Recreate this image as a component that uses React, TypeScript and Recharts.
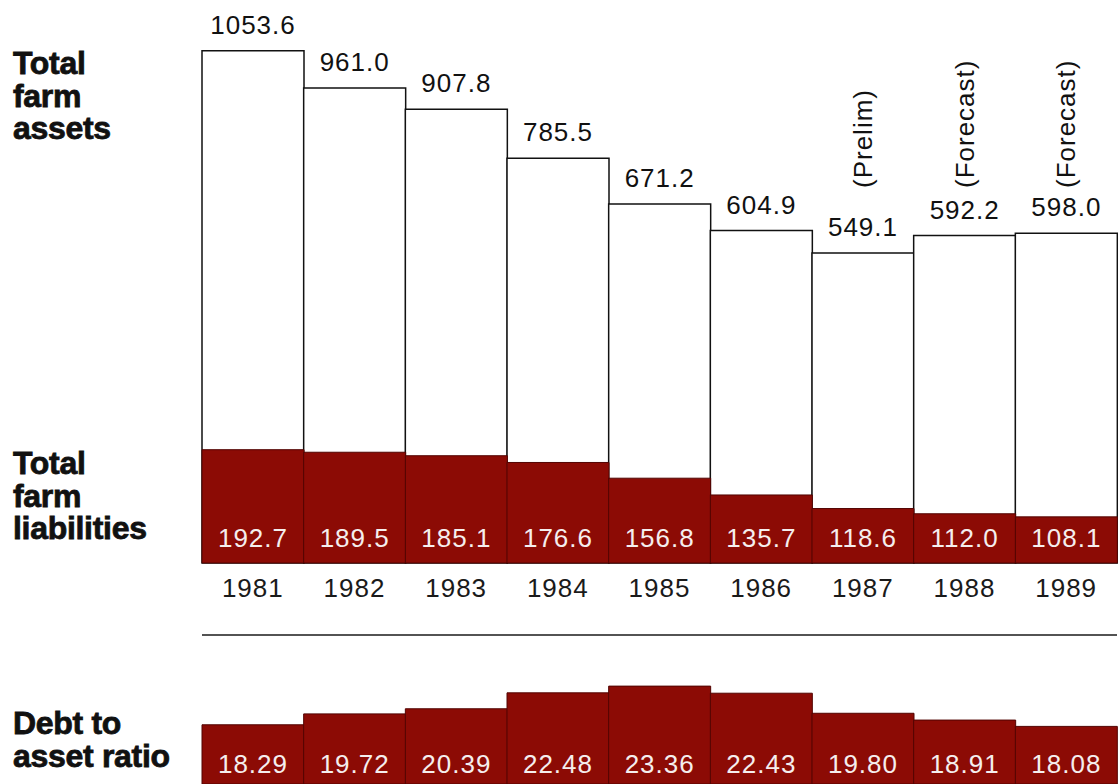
import React from 'react';
import { ComposedChart, BarChart, Bar, XAxis, YAxis, LabelList } from 'recharts';

const YEARS = ['1981', '1982', '1983', '1984', '1985', '1986', '1987', '1988', '1989'];
const ASSETS = [1053.6, 961.0, 907.8, 785.5, 671.2, 604.9, 549.1, 592.2, 598.0];
const LIABILITIES = [192.7, 189.5, 185.1, 176.6, 156.8, 135.7, 118.6, 112.0, 108.1];
const DEBT_RATIO = [18.29, 19.72, 20.39, 22.48, 23.36, 22.43, 19.8, 18.91, 18.08];
const NOTES = ['', '', '', '', '', '', '(Prelim)', '(Forecast)', '(Forecast)'];

const data = YEARS.map((year, i) => ({
  year,
  assets: ASSETS[i],
  liabilities: LIABILITIES[i],
  ratio: DEBT_RATIO[i],
  note: NOTES[i],
}));

// the printed chart is not drawn from zero, so the hidden axes start below it
const ASSET_DOMAIN: [number, number] = [-225, 1093];
const LIAB_DOMAIN: [number, number] = [50, 715];
const RATIO_DOMAIN: [number, number] = [10.53, 30.06];

const RED = '#8c0b05';
const RED_EDGE = '#520402';
const FONT = '"Liberation Sans", Arial, Helvetica, sans-serif';
const NOTE_Y = 188;

const sideLabel: React.CSSProperties = {
  position: 'absolute',
  left: 13,
  fontFamily: FONT,
  fontWeight: 700,
  fontSize: 32,
  lineHeight: '32.5px',
  color: '#111',
  WebkitTextStroke: '0.8px #111',
  letterSpacing: -0.3,
};

function NoteLabel(props: any) {
  const { x, width, value } = props;
  if (!value) return null;
  const cx = Number(x) + Number(width) / 2;
  return (
    <text
      x={cx}
      y={NOTE_Y}
      transform={`rotate(-90 ${cx} ${NOTE_Y})`}
      textAnchor="start"
      dominantBaseline="central"
      fontSize={26}
      fontFamily={FONT}
      letterSpacing={1}
      fill="#111"
    >
      {value}
    </text>
  );
}

function YearTick(props: any) {
  const { x, y, payload } = props;
  return (
    <text x={x} y={Number(y) + 34} textAnchor="middle" fontSize={26} fontFamily={FONT} letterSpacing={1} fill="#1a1a1a">
      {payload.value}
    </text>
  );
}

export default function App() {
  return (
    <div
      style={{
        position: 'absolute',
        left: 0,
        top: 0,
        width: 1118,
        height: 784,
        background: '#fff',
        overflow: 'hidden',
      }}
    >
      <div style={{ ...sideLabel, top: 47 }}>
        Total
        <br />
        farm
        <br />
        assets
      </div>
      <div style={{ ...sideLabel, top: 447 }}>
        Total
        <br />
        farm
        <br />
        liabilities
      </div>
      <div style={{ ...sideLabel, top: 707 }}>
        Debt to
        <br />
        asset ratio
      </div>

      <div style={{ position: 'absolute', left: 0, top: 0 }}>
        <ComposedChart
          width={1118}
          height={615}
          data={data}
          margin={{ top: 35, right: 1, bottom: 0, left: 202 }}
          barCategoryGap={0}
          barGap={0}
        >
          <XAxis xAxisId="liab" dataKey="year" orientation="top" hide />
          <XAxis
            xAxisId="years"
            dataKey="year"
            height={52}
            axisLine={false}
            tickLine={false}
            tickSize={0}
            tickMargin={0}
            interval={0}
            tick={<YearTick />}
          />
          <YAxis yAxisId="assets" domain={ASSET_DOMAIN} hide />
          <YAxis yAxisId="liab" domain={LIAB_DOMAIN} hide />
          <Bar
            xAxisId="years"
            yAxisId="assets"
            dataKey={(d: any) => [ASSET_DOMAIN[0], d.assets]}
            fill="#fff"
            stroke="#111"
            strokeWidth={1.5}
            isAnimationActive={false}
          >
            <LabelList
              dataKey="assets"
              position="top"
              offset={17}
              formatter={(v: any) => Number(v).toFixed(1)}
              fill="#111"
              fontSize={26}
              fontFamily={FONT}
              letterSpacing={1}
            />
            <LabelList dataKey="note" content={NoteLabel} />
          </Bar>
          <Bar
            xAxisId="liab"
            yAxisId="liab"
            dataKey="liabilities"
            fill={RED}
            stroke={RED_EDGE}
            strokeWidth={1}
            isAnimationActive={false}
          >
            <LabelList
              dataKey="liabilities"
              position="insideBottom"
              offset={16}
              formatter={(v: any) => Number(v).toFixed(1)}
              fill="#f5eeee"
              fontSize={26}
              fontFamily={FONT}
              letterSpacing={1}
            />
          </Bar>
        </ComposedChart>
      </div>

      <div style={{ position: 'absolute', left: 0, top: 620 }}>
        <BarChart
          width={1118}
          height={164}
          data={data}
          margin={{ top: 14, right: 1, bottom: 0, left: 202 }}
          barCategoryGap={0}
          barGap={0}
        >
          <XAxis
            dataKey="year"
            orientation="top"
            height={1}
            tick={false}
            tickLine={false}
            axisLine={{ stroke: '#1a1a1a', strokeWidth: 1.5 }}
          />
          <YAxis domain={RATIO_DOMAIN} hide />
          <Bar dataKey="ratio" fill={RED} stroke={RED_EDGE} strokeWidth={1} isAnimationActive={false}>
            <LabelList
              dataKey="ratio"
              position="insideBottom"
              offset={11}
              formatter={(v: any) => Number(v).toFixed(2)}
              fill="#f5eeee"
              fontSize={26}
              fontFamily={FONT}
              letterSpacing={1}
            />
          </Bar>
        </BarChart>
      </div>
    </div>
  );
}
